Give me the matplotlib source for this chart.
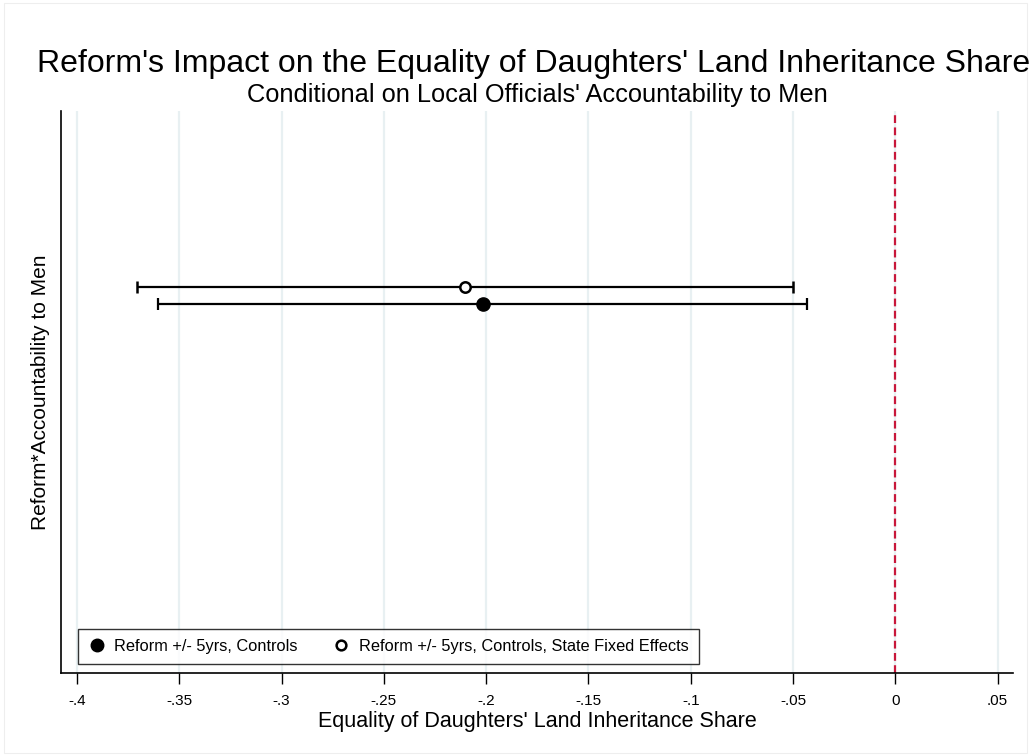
import matplotlib.pyplot as plt
from matplotlib.lines import Line2D
from matplotlib.patches import Rectangle

plt.rcParams['font.family'] = ['Liberation Sans', 'DejaVu Sans']

# coefficient estimates and 95% intervals
labels = ['Reform +/- 5yrs, Controls', 'Reform +/- 5yrs, Controls, State Fixed Effects']
coef = [-0.2017, -0.2104]
ci_low = [-0.3603, -0.3705]
ci_high = [-0.0431, -0.0499]
ypos = [0.657, 0.687]
filled = [True, False]

xticks = [-0.4, -0.35, -0.3, -0.25, -0.2, -0.15, -0.1, -0.05, 0, 0.05]
xticklabels = ['-.4', '-.35', '-.3', '-.25', '-.2', '-.15', '-.1', '-.05', '0', '.05']

fig = plt.figure(figsize=(10.31, 7.56), dpi=100)
ax = fig.add_axes([0.0592, 0.1098, 0.9233, 0.7434])

# faint outer frame like the stata export
fig.patches.append(Rectangle((0.004, 0.004), 0.992, 0.992, transform=fig.transFigure,
                             fill=False, edgecolor='#eeeeee', linewidth=0.8))

for x in xticks:
    ax.axvline(x, color='#e8f0f2', linewidth=1.6, zorder=0)

ax.axvline(0, color='#c8173a', linestyle=(0, (3.5, 2)), linewidth=1.6, zorder=1)

for i in range(len(coef)):
    err = [[coef[i] - ci_low[i]], [ci_high[i] - coef[i]]]
    if filled[i]:
        ax.errorbar(coef[i], ypos[i], xerr=err, fmt='o', color='black', markersize=9.5,
                    elinewidth=1.6, capsize=4.3, capthick=1.6, zorder=3)
    else:
        ax.errorbar(coef[i], ypos[i], xerr=err, fmt='o', color='black', mfc='white',
                    mec='black', mew=1.8, markersize=7.5,
                    elinewidth=1.6, capsize=4.3, capthick=1.6, zorder=3)

ax.set_xlim(-0.4078, 0.0575)
ax.set_ylim(0, 1)
ax.set_xticks(xticks)
ax.set_xticklabels(xticklabels, fontsize=11)
ax.set_yticks([])
ax.tick_params(axis='x', length=8, width=1, pad=7)
ax.spines['top'].set_visible(False)
ax.spines['right'].set_visible(False)
ax.spines['left'].set_linewidth(1.2)
ax.spines['bottom'].set_linewidth(1.2)

ax.set_xlabel("Equality of Daughters' Land Inheritance Share", fontsize=15.5, labelpad=2)
ax.set_ylabel('Reform*Accountability to Men', fontsize=15, labelpad=8)

fig.text(0.518, 0.915, "Reform's Impact on the Equality of Daughters' Land Inheritance Share",
         ha='center', va='center', fontsize=23)
fig.text(0.521, 0.874, "Conditional on Local Officials' Accountability to Men",
         ha='center', va='center', fontsize=18.3)

handles = [
    Line2D([], [], marker='o', linestyle='none', color='black', markersize=9),
    Line2D([], [], marker='o', linestyle='none', mfc='white', mec='black', mew=1.8, markersize=7),
]
leg = ax.legend(handles, labels, ncol=2, loc='lower left', bbox_to_anchor=(0.018, 0.016),
                fontsize=11.8, frameon=True, fancybox=False, edgecolor='black',
                handlelength=1.0, handletextpad=0.55, columnspacing=2.2,
                borderpad=0.62, borderaxespad=0)
leg.get_frame().set_linewidth(1.0)

fig.savefig('out.png', dpi=100)
